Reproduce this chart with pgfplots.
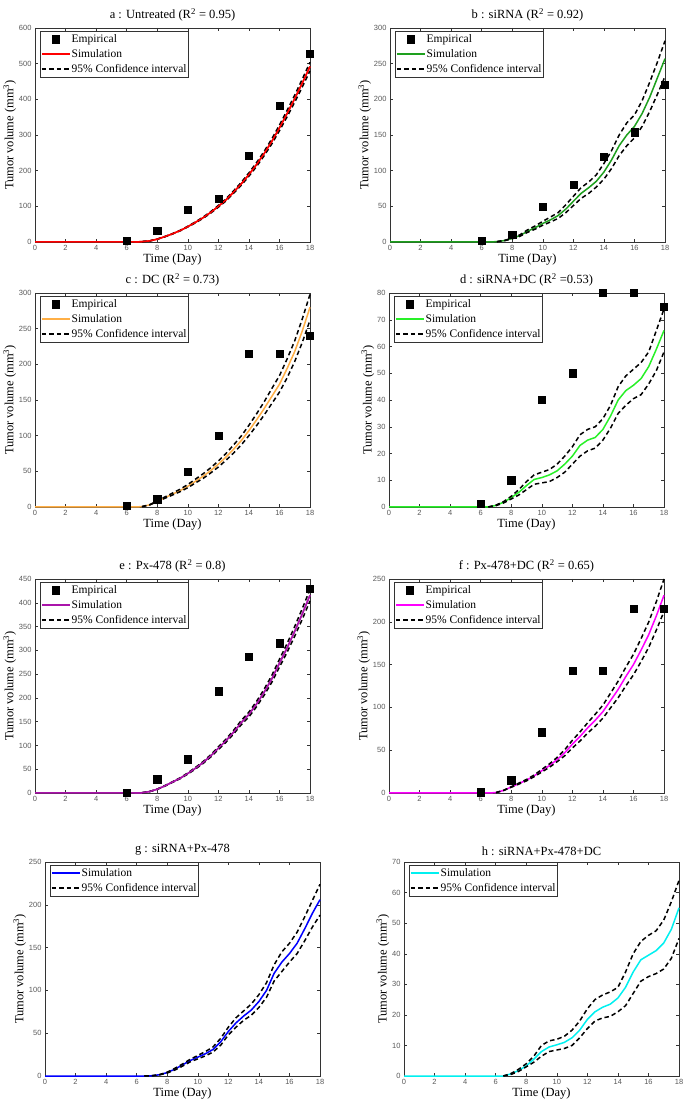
\documentclass[border=0pt]{standalone}
\usepackage{pgfplots}
\pgfplotsset{compat=1.18}
\usepackage{fontspec}
\setmainfont{Liberation Serif}
\newfontfamily\tickfont{Liberation Sans}
\definecolor{cA}{RGB}{255,0,0}
\definecolor{cB}{RGB}{30,160,30}
\definecolor{cC}{RGB}{255,175,70}
\definecolor{cD}{RGB}{40,240,40}
\definecolor{cE}{RGB}{170,20,170}
\definecolor{cF}{RGB}{255,0,255}
\definecolor{cG}{RGB}{0,0,255}
\definecolor{cH}{RGB}{0,240,240}
\pgfplotsset{
  panel/.style={
    scale only axis, width=275pt, height=214pt,
    xmin=0, xmax=18, ymin=0,
    xtick={0,2,...,18},
    tick align=inside, xtick pos=both, ytick pos=both,
    major tick length=3pt,
    tick style={black!80, line width=0.4pt},
    axis line style={black!80, line width=0.5pt},
    /pgf/number format/assume math mode=true,
    tick label style={font=\tickfont\fontsize{7.5}{8}\selectfont, color=black!65},
    xlabel={Time (Day)},
    ylabel={Tumor volume (mm\textsuperscript{3})},
    label style={font=\fontsize{12.5}{14}\selectfont},
    xlabel style={yshift=4pt},
    ylabel style={yshift=-4pt},
    title style={font=\fontsize{12.5}{14}\selectfont, yshift=-3pt},
    clip=false,
    legend cell align=left,
    legend style={at={(axis description cs:0.018,0.985)}, anchor=north west,
      draw=black!80, fill=white,
      font=\fontsize{11.5}{13}\selectfont,
      inner xsep=1pt, inner ysep=3pt, row sep=5.5pt,
      nodes={inner xsep=1pt, inner ysep=0pt}},
    legend image post style={line width=1.5pt},
    legend image code/.code={\draw[mark repeat=2,mark phase=2,#1] plot coordinates {(0pt,0pt) (14pt,0pt) (28pt,0pt)};},
  },
  emp/.style={only marks, mark=square*, mark size=3.6pt, black, mark options={line width=0.4pt}},
  sim/.style={line width=1.5pt, no marks},
  ci/.style={line width=1.5pt, black, dash pattern=on 4.5pt off 3pt, no marks},
}
\begin{document}
\begin{tikzpicture}
\path[use as bounding box] (0pt,0pt) rectangle (685pt,1103pt);
% ---------- a
\begin{axis}[panel, at={(35pt,861pt)}, anchor=south west, ymax=600, ytick={0,100,...,600},
  title={a : Untreated (R\textsuperscript{2} = 0.95)}]
\addplot[emp] coordinates {(6,3) (8,31) (10,91) (12,121) (14,241) (16,382) (18,527)};
\addlegendentry{Empirical}
\addplot[sim, cA] coordinates {(0,0) (6.5,0) (7,1) (7.5,3) (8,8) (8.5,15) (9,23) (9.5,32) (10,43) (10.5,55) (11,68) (11.5,83) (12,100) (12.5,118) (13,140) (13.5,163) (14,189) (14.5,217) (15,248) (15.5,282) (16,320) (16.5,360) (17,402) (17.5,446) (18,492)};
\addlegendentry{Simulation}
\addplot[ci] coordinates {(7,1) (7.5,3.1) (8,8.2) (8.5,15.4) (9,23.6) (9.5,32.8) (10,44) (10.5,56.4) (11,69.7) (11.5,85.1) (12,102.5) (12.5,121) (13,143.5) (13.5,167.1) (14,193.7) (14.5,222.4) (15,254.2) (15.5,289) (16,328) (16.5,369) (17,412) (17.5,457) (18,504)};
\addlegendentry{95\% Confidence interval}
\addplot[ci] coordinates {(7,1) (7.5,2.9) (8,7.8) (8.5,14.6) (9,22.4) (9.5,31.2) (10,42) (10.5,53.6) (11,66.3) (11.5,80.9) (12,97.5) (12.5,115) (13,136.5) (13.5,158.9) (14,184.3) (14.5,211.6) (15,241.8) (15.5,275) (16,312) (16.5,351) (17,392) (17.5,435) (18,480)};
\addplot[sim, cA, forget plot] coordinates {(6.5,0) (7,1) (7.5,3) (8,8) (8.5,15) (9,23) (9.5,32) (10,43) (10.5,55) (11,68) (11.5,83) (12,100) (12.5,118) (13,140) (13.5,163) (14,189) (14.5,217) (15,248) (15.5,282) (16,320) (16.5,360) (17,402) (17.5,446) (18,492)};
\end{axis}
% ---------- b
\begin{axis}[panel, at={(390pt,861pt)}, anchor=south west, ymax=300, ytick={0,50,...,300},
  title={b : siRNA (R\textsuperscript{2} = 0.92)}]
\addplot[emp] coordinates {(6,2) (8,10) (10,50) (12,80) (14,120) (16,154) (18,221)};
\addlegendentry{Empirical}
\addplot[sim, cB] coordinates {(0,0) (6.5,0) (7,0.5) (7.5,2) (8,5) (8.5,9) (9,15) (9.5,20) (10,26) (10.5,31) (11,37) (11.5,46) (12,57) (12.5,68) (13,76) (13.5,85) (14,98) (14.5,115) (15,135) (15.5,150) (16,162) (16.5,180) (17,203) (17.5,230) (18,257)};
\addlegendentry{Simulation}
\addplot[ci] coordinates {(7,0.5) (7.5,2.2) (8,5.5) (8.5,10) (9,17) (9.5,22.5) (10,29) (10.5,35) (11,41) (11.5,52) (12,64) (12.5,76) (13,84) (13.5,94) (14,110) (14.5,128) (15,150) (15.5,167) (16,178) (16.5,198) (17,224) (17.5,252) (18,282)};
\addlegendentry{95\% Confidence interval}
\addplot[ci] coordinates {(7,0.5) (7.5,1.8) (8,4.5) (8.5,8) (9,13.5) (9.5,18) (10,23.5) (10.5,28) (11,33) (11.5,41) (12,51) (12.5,61) (13,68) (13.5,77) (14,88) (14.5,103) (15,121) (15.5,135) (16,146) (16.5,162) (17,183) (17.5,207) (18,232)};
\end{axis}
% ---------- c
\begin{axis}[panel, at={(35pt,596pt)}, anchor=south west, ymax=300, ytick={0,50,...,300},
  title={c : DC (R\textsuperscript{2} = 0.73)}]
\addplot[emp] coordinates {(6,2) (8,11) (10,50) (12,100) (14,215) (16,215) (18,240)};
\addlegendentry{Empirical}
\addplot[sim, cC] coordinates {(0,0) (6.5,0) (7,0.5) (7.5,3) (8,8) (8.5,13) (9,18) (9.5,23) (10,29) (10.5,36) (11,43) (11.5,51) (12,60) (12.5,70) (13,81) (13.5,93) (14,107) (14.5,122) (15,138) (15.5,155) (16,172) (16.5,194) (17,218) (17.5,247) (18,280)};
\addlegendentry{Simulation}
\addplot[ci] coordinates {(7,0.5) (7.5,3.2) (8,8.6) (8.5,14) (9,19.5) (9.5,25) (10,31.5) (10.5,39) (11,46.5) (11.5,55) (12,64.5) (12.5,75) (13,87) (13.5,99.5) (14,114.5) (14.5,130.5) (15,147.5) (15.5,166) (16,184) (16.5,207.5) (17,233) (17.5,264) (18,298)};
\addlegendentry{95\% Confidence interval}
\addplot[ci] coordinates {(7,0.5) (7.5,2.8) (8,7.5) (8.5,12.2) (9,16.8) (9.5,21.5) (10,27) (10.5,33.7) (11,40) (11.5,47.7) (12,56) (12.5,65.5) (13,75.7) (13.5,87) (14,100) (14.5,114) (15,129) (15.5,145) (16,161) (16.5,181) (17,204) (17.5,231) (18,262)};
\end{axis}
% ---------- d
\begin{axis}[panel, at={(389pt,596pt)}, anchor=south west, ymax=80, ytick={0,10,...,80},
  title={d : siRNA+DC (R\textsuperscript{2} =0.53)}]
\addplot[emp] coordinates {(6,1.3) (8,10) (10,40) (12,50) (14,80) (16,80) (18,75)};
\addlegendentry{Empirical}
\addplot[sim, cD] coordinates {(0,0) (6.5,0) (7,0.6) (7.5,1.8) (8,3.5) (8.5,5.5) (9,8) (9.5,10.3) (10,11) (10.5,12) (11,13.5) (11.5,16) (12,19) (12.5,23) (13,25) (13.5,26) (14,29) (14.5,34) (15,40) (15.5,43.5) (16,45.5) (16.5,48) (17,52.5) (17.5,59) (18,66)};
\addlegendentry{Simulation}
\addplot[ci] coordinates {(6.5,0) (7,0.7) (7.5,2) (8,4) (8.5,6.5) (9,9.5) (9.5,12) (10,13) (10.5,14) (11,16) (11.5,19) (12,22.5) (12.5,27) (13,29) (13.5,30) (14,33) (14.5,38) (15,45) (15.5,49) (16,51.5) (16.5,54) (17,58) (17.5,66) (18,74)};
\addlegendentry{95\% Confidence interval}
\addplot[ci] coordinates {(6.5,0) (7,0.5) (7.5,1.5) (8,3) (8.5,4.5) (9,6.5) (9.5,8.5) (10,9) (10.5,9.5) (11,11) (11.5,13) (12,16) (12.5,19) (13,21) (13.5,22) (14,25) (14.5,29.5) (15,35) (15.5,38) (16,40.5) (16.5,42) (17,46) (17.5,51) (18,58)};
\end{axis}
% ---------- e
\begin{axis}[panel, at={(35pt,310pt)}, anchor=south west, ymax=450, ytick={0,50,...,450},
  title={e : Px-478 (R\textsuperscript{2} = 0.8)}]
\addplot[emp] coordinates {(6,1) (8,29) (10,71) (12,214) (14,286) (16,315) (18,429)};
\addlegendentry{Empirical}
\addplot[sim, cE] coordinates {(0,0) (6.5,0) (7,0.5) (7.5,3) (8,8) (8.5,15) (9,23) (9.5,31) (10,41) (10.5,52) (11,64) (11.5,78) (12,94) (12.5,110) (13,128) (13.5,148) (14,165) (14.5,187) (15,212) (15.5,240) (16,273) (16.5,305) (17,340) (17.5,377) (18,416)};
\addlegendentry{Simulation}
\addplot[ci] coordinates {(7,0.5) (7.5,3.1) (8,8.2) (8.5,15.5) (9,23.7) (9.5,32) (10,42.2) (10.5,53.6) (11,66) (11.5,80.3) (12,96.8) (12.5,113.3) (13,131.8) (13.5,152.4) (14,170) (14.5,192.6) (15,218.4) (15.5,247.2) (16,281.2) (16.5,314.2) (17,350.2) (17.5,388.3) (18,428)};
\addlegendentry{95\% Confidence interval}
\addplot[ci] coordinates {(7,0.5) (7.5,2.9) (8,7.8) (8.5,14.5) (9,22.3) (9.5,30) (10,39.8) (10.5,50.4) (11,62) (11.5,75.7) (12,91.2) (12.5,106.7) (13,124.2) (13.5,143.6) (14,160) (14.5,181.4) (15,205.6) (15.5,232.8) (16,264.8) (16.5,295.8) (17,329.8) (17.5,365.7) (18,404)};
\addplot[sim, cE, forget plot] coordinates {(6.5,0) (7,0.5) (7.5,3) (8,8) (8.5,15) (9,23) (9.5,31) (10,41) (10.5,52) (11,64) (11.5,78) (12,94) (12.5,110) (13,128) (13.5,148) (14,165) (14.5,187) (15,212) (15.5,240) (16,273) (16.5,305) (17,340) (17.5,377) (18,416)};
\end{axis}
% ---------- f
\begin{axis}[panel, at={(389pt,310pt)}, anchor=south west, ymax=250, ytick={0,50,...,250},
  title={f : Px-478+DC (R\textsuperscript{2} = 0.65)}]
\addplot[emp] coordinates {(6,1) (8,15) (10,71) (12,143) (14,143) (16,215) (18,215)};
\addlegendentry{Empirical}
\addplot[sim, cF] coordinates {(0,0) (6.5,0) (7,0.5) (7.5,3) (8,7) (8.5,11) (9,15) (9.5,20) (10,26) (10.5,32) (11,39) (11.5,47) (12,57) (12.5,66) (13,76) (13.5,85) (14,95) (14.5,108) (15,121) (15.5,136) (16,150) (16.5,167) (17,185) (17.5,207) (18,231)};
\addlegendentry{Simulation}
\addplot[ci] coordinates {(7,0.5) (7.5,3.1) (8,7.3) (8.5,11.6) (9,15.8) (9.5,21) (10,27.5) (10.5,34) (11,41.5) (11.5,50.5) (12,61.5) (12.5,71.3) (13,82) (13.5,92) (14,102.6) (14.5,116.6) (15,130.7) (15.5,146.9) (16,162) (16.5,180.4) (17,199.8) (17.5,223.6) (18,250)};
\addlegendentry{95\% Confidence interval}
\addplot[ci] coordinates {(7,0.5) (7.5,2.9) (8,6.7) (8.5,10.4) (9,14.2) (9.5,19) (10,24.5) (10.5,30) (11,36.5) (11.5,43.5) (12,52.5) (12.5,60.7) (13,70) (13.5,78) (14,87.4) (14.5,99.4) (15,111.3) (15.5,125.1) (16,138) (16.5,153.6) (17,170.2) (17.5,190.4) (18,212)};
\end{axis}
% ---------- g
\begin{axis}[panel, at={(45pt,27pt)}, anchor=south west, ymax=250, ytick={0,50,...,250},
  title={g : siRNA+Px-478}]
\addplot[sim, cG] coordinates {(0,0) (6.5,0) (7,0.3) (7.5,1.5) (8,4) (8.5,8) (9,13) (9.5,18) (10,22) (10.5,26) (11,31) (11.5,40) (12,52) (12.5,62) (13,70) (13.5,77) (14,87) (14.5,100) (15,120) (15.5,133) (16,143) (16.5,155) (17,172) (17.5,190) (18,206)};
\addlegendentry{Simulation}
\addplot[ci] coordinates {(6.5,0) (7,0.3) (7.5,1.7) (8,4.5) (8.5,9) (9,14) (9.5,19.5) (10,24) (10.5,28.5) (11,34) (11.5,44) (12,57) (12.5,68) (13,76) (13.5,84) (14,95) (14.5,109) (15,130) (15.5,145) (16,155) (16.5,168) (17,186) (17.5,205) (18,224)};
\addlegendentry{95\% Confidence interval}
\addplot[ci] coordinates {(6.5,0) (7,0.3) (7.5,1.3) (8,3.5) (8.5,7) (9,11.5) (9.5,16.5) (10,20) (10.5,23.5) (11,28) (11.5,36) (12,48) (12.5,57) (13,65) (13.5,71) (14,80) (14.5,92) (15,111) (15.5,122) (16,133) (16.5,143) (17,158) (17.5,174) (18,188)};
\end{axis}
% ---------- h
\begin{axis}[panel, at={(404pt,27pt)}, anchor=south west, ymax=70, ytick={0,10,...,70},
  title={h : siRNA+Px-478+DC}]
\addplot[sim, cH] coordinates {(0,0) (6.5,0) (7,0.7) (7.5,1.8) (8,3.3) (8.5,5.5) (9,8) (9.5,9.5) (10,10.2) (10.5,11) (11,12.5) (11.5,15) (12,18.5) (12.5,21) (13,22.5) (13.5,23.5) (14,25.5) (14.5,29) (15,34) (15.5,38) (16,39.5) (16.5,41) (17,43.5) (17.5,48) (18,55)};
\addlegendentry{Simulation}
\addplot[ci] coordinates {(6.5,0) (7,0.8) (7.5,2.2) (8,4) (8.5,6.5) (9,10) (9.5,11.5) (10,12) (10.5,13) (11,15) (11.5,18) (12,22) (12.5,25) (13,26.5) (13.5,27.5) (14,29) (14.5,34) (15,40) (15.5,44) (16,46) (16.5,47.5) (17,51) (17.5,57) (18,64)};
\addlegendentry{95\% Confidence interval}
\addplot[ci] coordinates {(6.5,0) (7,0.5) (7.5,1.5) (8,3) (8.5,4.5) (9,6.5) (9.5,8) (10,8.5) (10.5,9) (11,10) (11.5,12.5) (12,15.5) (12.5,18) (13,19) (13.5,19.5) (14,21) (14.5,23) (15,27) (15.5,31) (16,32.5) (16.5,33.5) (17,35) (17.5,38.5) (18,45)};
\end{axis}
\end{tikzpicture}
\end{document}
